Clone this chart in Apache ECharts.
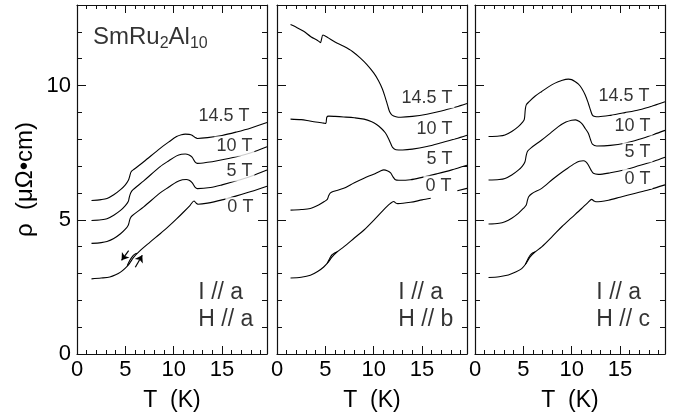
<!DOCTYPE html>
<html>
<head>
<meta charset="utf-8">
<script src="https://cdn.jsdelivr.net/npm/echarts@6/dist/echarts.min.js"></script>
<style>
  html, body { margin: 0; padding: 0; background: #fff; }
  #chart { width: 677px; height: 420px; }
</style>
</head>
<body>
<div id="chart"></div>
<script>
// resistivity rho (uOhm cm) vs T (K), SmRu2Al10, I // a
const fieldLabels = ["0 T", "5 T", "10 T", "14.5 T"];
const panelTitles = [["I // a", "H // a"], ["I // a", "H // b"], ["I // a", "H // c"]];
const xTickLabels = [0, 5, 10, 15];
const yTickLabels = [0, 5, 10];

// panel 1 : H // a
const ha0 = [[1.5,2.8],[2.5,2.83],[3.4,2.87],[4.0,2.95],[4.5,3.05],[5.0,3.2],[5.4,3.36],[5.85,3.6],[6.5,3.84],[7.5,4.15],[8.6,4.48],[9.5,4.76],[10.3,5.03],[11.0,5.28],[11.7,5.54],[12.1,5.7],[12.3,5.63],[12.5,5.58],[13.5,5.62],[15,5.74],[16.5,5.89],[18,6.05],[19.65,6.25]];
const ha0loop = [[5.2,3.29],[5.45,3.48],[5.7,3.62],[5.95,3.71],[6.2,3.75]];
const ha5 = [[1.5,4.12],[2.5,4.15],[3.1,4.19],[3.8,4.3],[4.5,4.48],[5.0,4.65],[5.3,4.8],[5.4,4.92],[5.5,5.05],[5.7,5.15],[6.9,5.48],[8.6,6.0],[9.5,6.22],[10.3,6.41],[10.9,6.49],[11.3,6.5],[11.6,6.47],[11.9,6.38],[12.2,6.22],[12.45,6.16],[13.8,6.2],[15,6.3],[16.5,6.45],[18,6.62],[19.65,6.85]];
const ha10 = [[1.5,4.97],[2.5,5.0],[3.1,5.04],[3.8,5.17],[4.5,5.35],[5.0,5.53],[5.3,5.68],[5.4,5.82],[5.55,6.0],[5.8,6.12],[6.9,6.45],[8.6,6.98],[9.5,7.2],[10.3,7.38],[10.8,7.44],[11.2,7.45],[11.6,7.41],[11.9,7.33],[12.2,7.16],[12.45,7.1],[13.5,7.14],[14.5,7.2],[16.5,7.35],[18,7.5],[19.65,7.72]];
const ha145 = [[1.5,5.72],[2.5,5.75],[3.1,5.79],[3.8,5.93],[4.5,6.12],[5.0,6.3],[5.3,6.46],[5.45,6.62],[5.6,6.79],[5.9,6.88],[6.9,7.16],[8.6,7.66],[9.5,7.9],[10.3,8.1],[10.8,8.17],[11.2,8.19],[11.6,8.18],[11.9,8.15],[12.2,8.07],[12.45,8.03],[13.5,8.06],[15,8.14],[16.5,8.27],[18,8.42],[19.65,8.62]];

// panel 2 : H // b  (0 T run stops near 16 K, short piece after the label)
const hb0 = [[1.4,2.83],[2.5,2.86],[3.45,2.93],[4.2,3.07],[4.83,3.24],[5.3,3.42],[5.7,3.62],[6.2,3.8],[6.9,3.99],[8.0,4.32],[9.0,4.62],[10.0,4.98],[11.0,5.36],[11.7,5.6],[12.07,5.68],[12.3,5.62],[12.5,5.6],[13.8,5.65],[15,5.74],[15.9,5.8]];
const hb0tail = [[18.65,6.08],[19.65,6.17]];
const hb0loop = [[5.2,3.38],[5.45,3.56],[5.7,3.7],[5.95,3.76],[6.2,3.8]];
const hb5 = [[1.4,5.36],[2.5,5.38],[3.45,5.42],[4.3,5.55],[4.9,5.68],[5.2,5.76],[5.35,5.9],[5.5,5.99],[5.8,6.05],[6.9,6.17],[8.0,6.38],[9.0,6.55],[10.0,6.7],[10.7,6.82],[11.05,6.86],[11.4,6.83],[11.75,6.75],[12.0,6.6],[12.25,6.49],[12.6,6.47],[13.8,6.49],[15,6.58],[16.5,6.71],[18,6.85],[19.65,7.03]];
const hb10 = [[1.4,8.75],[2.5,8.73],[3.1,8.7],[4.0,8.64],[4.83,8.6],[5.05,8.59],[5.15,8.82],[5.35,8.86],[6.0,8.85],[6.9,8.83],[8.0,8.8],[9.0,8.75],[9.8,8.65],[10.3,8.55],[10.8,8.4],[11.2,8.24],[11.5,8.05],[11.75,7.85],[11.95,7.7],[12.3,7.61],[13.0,7.6],[14.0,7.63],[15.5,7.73],[17,7.87],[18.5,8.02],[19.65,8.15]];
const hb145 = [[1.4,12.27],[2.0,12.17],[2.76,12.02],[3.5,11.82],[4.2,11.68],[4.5,11.6],[4.6,11.72],[4.75,11.88],[5.2,11.8],[6.0,11.62],[6.9,11.46],[7.8,11.27],[8.6,11.03],[9.3,10.78],[10.0,10.47],[10.5,10.18],[10.9,9.87],[11.2,9.55],[11.45,9.25],[11.65,9.02],[11.9,8.9],[12.3,8.84],[12.8,8.82],[14.0,8.85],[15.5,8.93],[17,9.05],[18.5,9.2],[19.65,9.33]];

// panel 3 : H // c
const hc0 = [[1.4,2.85],[2.5,2.88],[3.45,2.94],[4.2,3.05],[4.83,3.18],[5.3,3.38],[5.7,3.62],[6.2,3.8],[6.9,3.99],[8.0,4.38],[9.0,4.75],[10.0,5.08],[11.0,5.41],[11.7,5.65],[12.07,5.76],[12.3,5.7],[12.5,5.67],[13.8,5.73],[15,5.84],[16.5,5.98],[18,6.12],[19.65,6.3]];
const hc0loop = [[5.2,3.33],[5.45,3.52],[5.7,3.68],[5.95,3.76],[6.2,3.8]];
const hc5 = [[1.4,4.84],[2.5,4.87],[3.1,4.93],[3.8,5.06],[4.48,5.24],[5.0,5.42],[5.3,5.55],[5.42,5.72],[5.55,5.86],[5.9,5.98],[6.9,6.17],[8.0,6.5],[8.6,6.67],[9.5,6.9],[10.34,7.1],[10.8,7.18],[11.2,7.2],[11.5,7.15],[11.72,7.04],[12.0,6.85],[12.24,6.73],[12.76,6.69],[14.0,6.75],[15.5,6.86],[17,7.02],[18.5,7.18],[19.65,7.33]];
const hc10 = [[1.4,6.48],[2.5,6.5],[3.1,6.54],[3.8,6.67],[4.48,6.85],[4.9,7.0],[5.17,7.16],[5.3,7.4],[5.45,7.56],[5.8,7.68],[6.9,7.97],[7.8,8.23],[8.62,8.47],[9.4,8.64],[10.0,8.71],[10.4,8.72],[10.8,8.66],[11.1,8.56],[11.4,8.4],[11.72,8.22],[11.95,7.98],[12.14,7.82],[12.59,7.75],[14.0,7.77],[15.5,7.85],[17,8.0],[18.5,8.18],[19.65,8.33]];
const hc145 = [[1.4,8.1],[2.5,8.12],[3.1,8.16],[3.8,8.29],[4.48,8.47],[4.9,8.63],[5.1,8.74],[5.2,9.1],[5.3,9.28],[5.6,9.4],[6.2,9.6],[6.9,9.78],[7.6,9.95],[8.28,10.09],[8.9,10.18],[9.66,10.24],[10.0,10.22],[10.34,10.15],[10.7,10.05],[11.03,9.9],[11.4,9.65],[11.72,9.34],[11.95,9.08],[12.14,8.9],[12.4,8.85],[12.8,8.84],[14,8.89],[15.5,8.99],[17,9.1],[18.5,9.26],[19.65,9.4]];

// where the field labels sit (right edge, middle), per panel
const labelPosA = [[18.5,5.47],[18.4,6.8],[18.4,7.73],[18.1,8.87]];
const labelPosB = [[18.3,6.27],[18.4,7.28],[18.4,8.38],[18.4,9.53]];
const labelPosC = [[18.4,6.52],[18.4,7.51],[18.4,8.51],[18.3,9.61]];

const panels = [
  { curves: [ha0, ha5, ha10, ha145], extra: [ha0loop], labels: labelPosA },
  { curves: [hb0, hb5, hb10, hb145], extra: [hb0loop, hb0tail], labels: labelPosB },
  { curves: [hc0, hc5, hc10, hc145], extra: [hc0loop], labels: labelPosC }
];

const FONT = "'Liberation Sans', Arial, Helvetica, sans-serif";
const INK = "#000";
const T_MAX = 19.65, R_MAX = 13;
const lefts = [77, 277, 475];

const grids = lefts.map(l => ({ left: l, top: 5, width: 190, height: 349 }));

const xAxes = [], yAxes = [];
grids.forEach((g, p) => {
  const base = { gridIndex: p, type: "value", min: 0, max: T_MAX, splitLine: { show: false } };
  const line = { show: true, onZero: false, lineStyle: { color: "#111", width: 1.2 } };
  ["bottom", "top"].forEach(pos => {
    xAxes.push(Object.assign({}, base, {
      position: pos, interval: 5, axisLine: line,
      axisTick: { inside: true, length: 8, lineStyle: { color: "#111" } },
      axisLabel: pos === "bottom" ? {
        show: true, margin: 5, fontSize: 22, color: INK, fontFamily: FONT,
        formatter: v => xTickLabels.indexOf(v) >= 0 ? String(v) : ""
      } : { show: false },
      name: pos === "bottom" ? "T  (K)" : "", nameLocation: "middle", nameGap: 35,
      nameTextStyle: { fontSize: 23, color: INK, fontFamily: FONT }
    }));
    xAxes.push(Object.assign({}, base, {
      position: pos, interval: 1, axisLine: { show: false, onZero: false },
      axisTick: { inside: true, length: 4, lineStyle: { color: "#111" } },
      axisLabel: { show: false }
    }));
  });
  const ybase = { gridIndex: p, type: "value", min: 0, max: R_MAX, splitLine: { show: false } };
  ["left", "right"].forEach(pos => {
    const first = p === 0 && pos === "left";
    yAxes.push(Object.assign({}, ybase, {
      position: pos, interval: 5, axisLine: line,
      axisTick: { inside: true, length: 9, lineStyle: { color: "#111" } },
      axisLabel: first ? {
        show: true, margin: 6, fontSize: 22, color: INK, fontFamily: FONT,
        formatter: v => yTickLabels.indexOf(v) >= 0 ? String(v) : ""
      } : { show: false },
      name: first ? "\u03c1  (\u03bc\u03a9\u2022cm)" : "", nameLocation: "middle", nameGap: 40,
      nameTextStyle: { fontSize: 24, color: INK, fontFamily: FONT }
    }));
    yAxes.push(Object.assign({}, ybase, {
      position: pos, interval: 1, axisLine: { show: false, onZero: false },
      axisTick: { inside: true, length: 5, lineStyle: { color: "#111" } },
      axisLabel: { show: false }
    }));
  });
});

const series = [];
const curveStyle = { color: "#000", width: 1.1 };
panels.forEach((pn, p) => {
  const ax = { xAxisIndex: p * 4, yAxisIndex: p * 4 };
  pn.curves.forEach((d, i) => {
    const s = Object.assign({
      type: "line", data: d, symbol: "none", smooth: 0.3,
      lineStyle: curveStyle, silent: true, z: 2
    }, ax);
    if (p === 0 && i === 0) {
      // warming / cooling arrows
      s.markLine = {
        silent: true, symbol: ["none", "arrow"], symbolSize: 7,
        lineStyle: { color: "#000", width: 1.2, type: "solid" },
        label: { show: false },
        data: [
          [{ coord: [5.34, 3.85] }, { coord: [4.61, 3.49] }],
          [{ coord: [6.03, 3.23] }, { coord: [6.75, 3.68] }]
        ]
      };
    }
    series.push(s);
  });
  pn.extra.forEach(d => {
    series.push(Object.assign({
      type: "line", data: d, symbol: "none", smooth: 0.4,
      lineStyle: curveStyle, silent: true, z: 2
    }, ax));
  });
  // field labels, white box hides the curve behind the text
  series.push(Object.assign({
    type: "scatter", symbolSize: 1, itemStyle: { color: "rgba(0,0,0,0)" }, silent: true, z: 5,
    data: pn.labels.map((pt, i) => [pt[0], pt[1], fieldLabels[i]]),
    label: {
      show: true, position: "left", distance: 0, formatter: q => q.data[2],
      fontSize: 18, color: INK, fontFamily: FONT, backgroundColor: "#fff", padding: [1, 2, 1, 2]
    }
  }, ax));
  series.push(Object.assign({
    type: "scatter", symbolSize: 1, itemStyle: { color: "rgba(0,0,0,0)" }, silent: true, z: 5,
    data: [[12.5, 2.3, panelTitles[p][0]], [12.5, 1.27, panelTitles[p][1]]],
    label: {
      show: true, position: "right", distance: 0, formatter: q => q.data[2],
      fontSize: 23, color: INK, fontFamily: FONT
    }
  }, ax));
});

series.push({
  type: "scatter", xAxisIndex: 0, yAxisIndex: 0, symbolSize: 1,
  itemStyle: { color: "rgba(0,0,0,0)" }, silent: true, z: 5,
  data: [[1.6, 11.8]],
  label: {
    show: true, position: "right", distance: 0,
    formatter: "{a|SmRu}{b|2}{a|Al}{b|10}",
    rich: {
      a: { fontSize: 24, lineHeight: 28, color: INK, fontFamily: FONT },
      b: { fontSize: 16, lineHeight: 8, verticalAlign: "bottom", color: INK, fontFamily: FONT }
    }
  }
});

const chart = echarts.init(document.getElementById("chart"), null, { renderer: "canvas" });
chart.setOption({
  animation: false,
  backgroundColor: "#fff",
  textStyle: { fontFamily: FONT },
  grid: grids,
  xAxis: xAxes,
  yAxis: yAxes,
  series: series
});
</script>
</body>
</html>
